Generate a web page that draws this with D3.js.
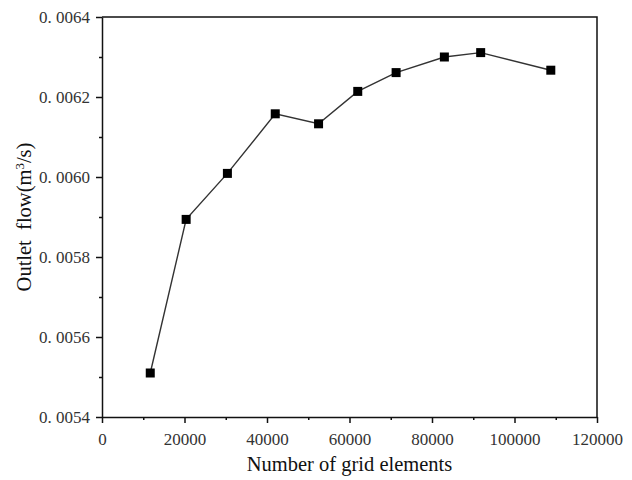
<!DOCTYPE html>
<html lang="en">
<head>
<meta charset="UTF-8">
<title>Outlet flow vs grid elements</title>
<script src="https://d3js.org/d3.v7.min.js"></script>
<style>
body { margin: 0; background: white; }
.tick text { font-family: 'Liberation Serif', serif; font-size: 17px; fill: #333; }
.axis path, .axis line { stroke: #111; stroke-width: 1.5px; }
.title { font-family: 'Liberation Serif', serif; font-size: 20.5px; fill: #111; }
</style>
</head>
<body>
<div id="chart"></div>
<script>

// data
var gridElements = [11700, 20400, 30400, 42000, 52500, 62000, 71300, 83000, 91800, 108800];
var outletFlow = [0.00551, 0.005894, 0.006009, 0.006158, 0.006133, 0.006214, 0.006261, 0.0063, 0.006311, 0.006267];

var xTicks = [0, 20000, 40000, 60000, 80000, 100000, 120000];
var xMinor = [10000, 30000, 50000, 70000, 90000, 110000];
var yTicks = [0.0054, 0.0056, 0.0058, 0.006, 0.0062, 0.0064];
var yTickLabels = ["0. 0054", "0. 0056", "0. 0058", "0. 0060", "0. 0062", "0. 0064"];
var yMinor = [0.0055, 0.0057, 0.0059, 0.0061, 0.0063];

var totalWidth = 632, totalHeight = 480;
var margin = {top: 17, right: 35, bottom: 63, left: 102};
var width = totalWidth - margin.left - margin.right;
var height = totalHeight - margin.top - margin.bottom;

var svg = d3.select("#chart").append("svg")
  .attr("width", totalWidth)
  .attr("height", totalHeight);

var g = svg.append("g").attr("transform", `translate(${margin.left},${margin.top})`);

var xscale = d3.scaleLinear().domain([0, 120000]).range([0, width]);
var yscale = d3.scaleLinear().domain([0.0054, 0.0064]).range([height, 0]);

// frame (top + right)
g.append("path")
  .attr("d", `M0,0H${width}V${height}`)
  .attr("fill", "none")
  .attr("stroke", "#111")
  .attr("stroke-width", 1.5);

// minor ticks
g.append("g").attr("class", "axis")
  .attr("transform", `translate(0,${height})`)
  .call(d3.axisBottom(xscale).tickValues(xMinor).tickSize(3).tickFormat(""))
  .select(".domain").remove();
g.append("g").attr("class", "axis")
  .call(d3.axisLeft(yscale).tickValues(yMinor).tickSize(3).tickFormat(""))
  .select(".domain").remove();

// major axes
g.append("g").attr("class", "axis x-axis")
  .attr("transform", `translate(0,${height})`)
  .call(d3.axisBottom(xscale).tickValues(xTicks).tickSize(6).tickSizeOuter(0).tickPadding(10).tickFormat(d3.format("d")));

g.append("g").attr("class", "axis y-axis")
  .call(d3.axisLeft(yscale).tickValues(yTicks).tickSize(6).tickSizeOuter(0).tickPadding(6)
    .tickFormat((d, i) => yTickLabels[i]));

// line + markers
var pts = gridElements.map((x, i) => ({x: x, y: outletFlow[i]}));

g.append("path")
  .datum(pts)
  .attr("fill", "none")
  .attr("stroke", "#333")
  .attr("stroke-width", 1.4)
  .attr("d", d3.line().x(d => xscale(d.x)).y(d => yscale(d.y)));

g.selectAll(".pt")
  .data(pts)
  .enter().append("rect")
  .attr("class", "pt")
  .attr("x", d => xscale(d.x) - 4.5)
  .attr("y", d => yscale(d.y) - 4.5)
  .attr("width", 9)
  .attr("height", 9)
  .attr("fill", "#000");

// titles
svg.append("text")
  .attr("class", "title")
  .attr("x", margin.left + width / 2)
  .attr("y", 471)
  .attr("text-anchor", "middle")
  .text("Number of grid elements");

svg.append("text")
  .attr("class", "title")
  .attr("transform", `translate(31,${margin.top + height / 2}) rotate(-90)`)
  .attr("text-anchor", "middle")
  .attr("xml:space", "preserve")
  .html("Outlet  flow(m<tspan baseline-shift='super' font-size='13px'>3</tspan>/s)");

</script>
</body>
</html>
